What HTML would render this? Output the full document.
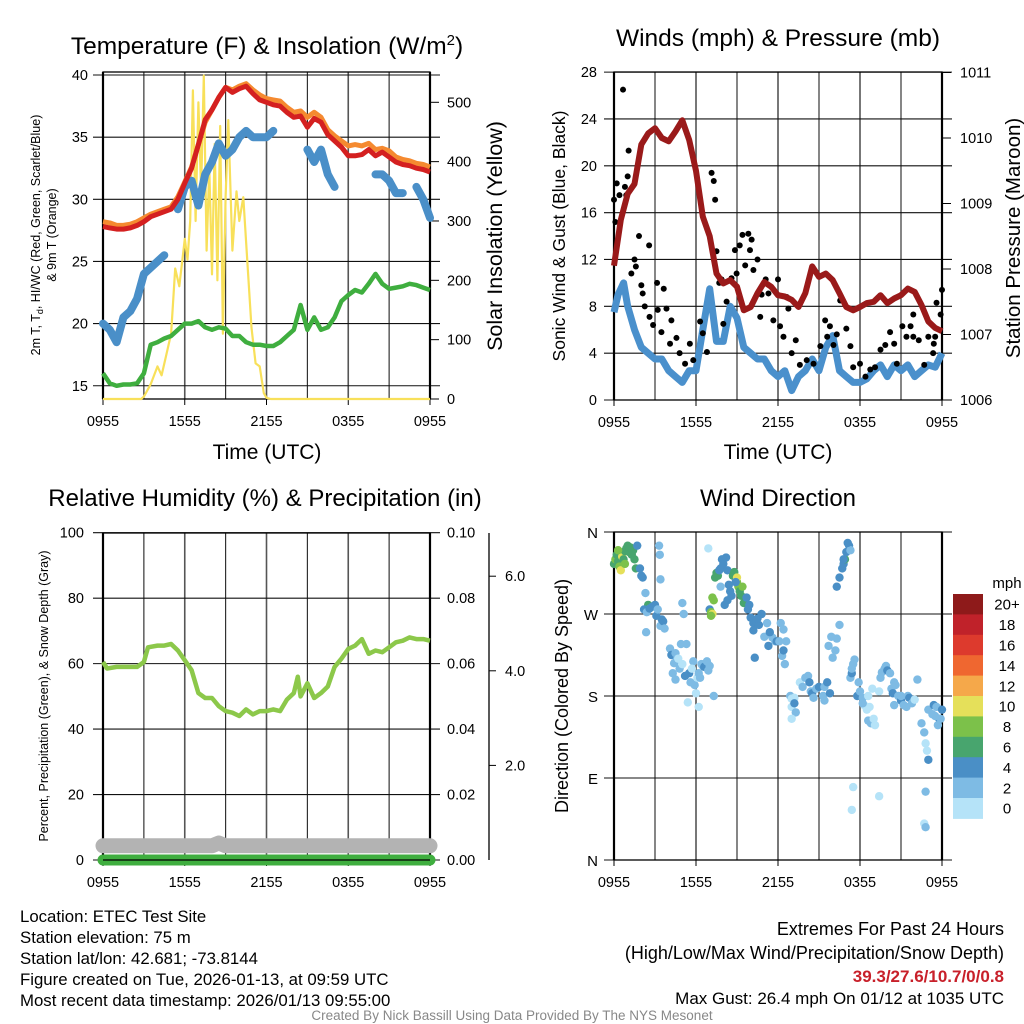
<!DOCTYPE html>
<html><head><meta charset="utf-8"><style>
html,body{margin:0;padding:0;background:#fff;}
svg{display:block;font-family:"Liberation Sans",Arial,sans-serif;}
</style></head><body>
<svg id="fig" width="1024" height="1024" viewBox="0 0 1024 1024">
<rect width="1024" height="1024" fill="#fff"/>
<text x="267" y="54" font-size="24.5" text-anchor="middle">Temperature (F) &amp; Insolation (W/m<tspan dy="-9" font-size="15">2</tspan><tspan dy="9">)</tspan></text>
<text x="778" y="46" font-size="24.5" text-anchor="middle">Winds (mph) &amp; Pressure (mb)</text>
<text x="265" y="506" font-size="24" text-anchor="middle">Relative Humidity (%) &amp; Precipitation (in)</text>
<text x="778" y="506" font-size="24" text-anchor="middle">Wind Direction</text>
<text x="267" y="459" font-size="21" text-anchor="middle">Time (UTC)</text>
<text x="778" y="459" font-size="21" text-anchor="middle">Time (UTC)</text>
<text transform="translate(40,235) rotate(-90)" font-size="12.5" text-anchor="middle">2m T, T<tspan font-size="9" dy="3">d</tspan><tspan dy="-3">, HI/WC (Red, Green, Scarlet/Blue)</tspan></text>
<text transform="translate(56,235) rotate(-90)" font-size="12.5" text-anchor="middle">&amp; 9m T (Orange)</text>
<text transform="translate(502,236) rotate(-90)" font-size="21.5" text-anchor="middle">Solar Insolation (Yellow)</text>
<text transform="translate(565,236) rotate(-90)" font-size="17.5" text-anchor="middle">Sonic Wind &amp; Gust (Blue, Black)</text>
<text transform="translate(1020,238) rotate(-90)" font-size="20.5" text-anchor="middle">Station Pressure (Maroon)</text>
<text transform="translate(48,696) rotate(-90)" font-size="12.5" text-anchor="middle">Percent, Precipitation (Green), &amp; Snow Depth (Gray)</text>
<text transform="translate(568,696) rotate(-90)" font-size="18" text-anchor="middle">Direction (Colored By Speed)</text>
<g font-size="16.8">
<text x="20" y="922">Location: ETEC Test Site</text>
<text x="20" y="943">Station elevation: 75 m</text>
<text x="20" y="964">Station lat/lon: 42.681; -73.8144</text>
<text x="20" y="985">Figure created on Tue, 2026-01-13, at 09:59 UTC</text>
<text x="20" y="1006">Most recent data timestamp: 2026/01/13 09:55:00</text>
</g>
<g font-size="18" text-anchor="end">
<text x="1004" y="935">Extremes For Past 24 Hours</text>
<text x="1004" y="959">(High/Low/Max Wind/Precipitation/Snow Depth)</text>
<text x="1004" y="982" fill="#c8202a" font-weight="bold" font-size="17">39.3/27.6/10.7/0/0.8</text>
<text x="1004" y="1004" font-size="17">Max Gust: 26.4 mph On 01/12 at 1035 UTC</text>
</g>
<text x="512" y="1020" font-size="13.5" fill="#888" text-anchor="middle">Created By Nick Bassill Using Data Provided By The NYS Mesonet</text>
<g id="plots"></g>
</svg>
<script>
// ---------- data ----------
const hourTicks = ["0955","1555","2155","0355","0955"];
const tTimes = [0,0.5,1,1.5,2,2.5,3,3.5,4,4.5,5,5.5,6,6.5,7,7.5,8,8.5,9,9.5,10,10.5,11,11.5,12,12.5,13,13.5,14,14.5,15,15.5,16,16.5,17,17.5,18,18.5,19,19.5,20,20.5,21,21.5,22,22.5,23,23.5,24];
const temp2m = [27.8,27.7,27.6,27.6,27.7,27.9,28.2,28.6,28.8,29.0,29.2,30.0,31.3,32.5,34.4,36.4,37.2,38.2,39.0,38.6,38.9,39.1,38.5,38.0,37.8,37.6,37.5,37.0,36.6,36.7,35.8,36.5,36.2,35.2,34.7,34.2,33.5,33.5,33.6,34.0,33.5,33.8,33.4,33.0,32.8,32.7,32.5,32.4,32.2];
const temp9m = [28.2,28.1,27.9,27.9,28.0,28.2,28.5,28.8,29.0,29.2,29.4,30.2,31.4,32.6,34.4,36.2,37.2,38.2,39.0,38.8,39.1,39.3,38.8,38.4,38.1,38.0,37.9,37.4,37.0,37.1,36.6,37.0,36.6,35.6,35.1,34.7,34.3,34.4,34.3,34.5,34.0,34.1,33.9,33.4,33.2,33.1,32.9,32.8,32.6];
const dewpt = [16.0,15.2,15.0,15.1,15.1,15.2,16.0,18.3,18.5,18.8,19.0,19.5,20.0,20.0,20.2,19.7,19.5,19.7,19.6,19.0,19.0,18.5,18.3,18.3,18.2,18.2,18.5,19.0,19.5,21.5,19.5,20.5,19.5,19.7,20.5,21.8,22.3,22.7,22.5,23.2,24.0,23.2,22.8,22.9,23.0,23.2,23.1,22.9,22.7];
const heatIdx = [20.0,19.5,18.5,20.5,21.0,22.0,24.0,24.5,25.0,25.5,null,29.2,31.0,31.5,29.5,32.0,33.0,34.5,33.5,34.0,35.0,35.5,35.0,35.0,35.0,35.5,null,null,null,null,34.0,33.0,34.0,32.0,31.0,null,null,null,null,null,32.0,32.0,31.5,30.5,30.5,null,31.0,30.0,28.5];
const solarTimes = [0,2.8,3.0,3.5,4.0,4.3,4.6,5.0,5.3,5.6,6.0,6.2,6.4,6.6,6.8,7.0,7.2,7.4,7.6,7.8,8.0,8.2,8.4,8.6,8.8,9.0,9.2,9.5,9.8,10.0,10.3,10.6,10.9,11.2,11.5,11.8,12.0,12.3,24];
const solarVals = [0,0,4,25,55,40,70,110,220,190,270,235,300,520,300,500,350,545,250,390,210,430,200,460,110,340,470,250,350,300,340,230,120,60,55,10,2,0,0];
const windTimes = [0,0.3,0.7,1,1.5,2,2.5,3,3.5,4,4.5,5,5.5,6,6.5,7,7.5,8,8.5,9,9.5,10,10.5,11,11.5,12,12.5,13,13.5,14,14.5,15,15.5,16,16.5,17,17.5,18,18.5,19,19.5,20,20.5,21,21.5,22,22.5,23,23.5,24];
const windSpd = [7.5,9,10,8,6,4.5,4,3.5,3.5,2.5,2,1.5,2.5,2.5,6,9.5,5,5,8,7,4.5,4,3.5,3.5,2.5,2,2.5,0.8,2,2.5,3.5,2.5,4.5,5.5,2.5,2,1.5,1.5,1.8,2.5,3,2,3,2.5,3,2,2.5,3,2.8,4];
const pressTimes = [0,0.5,1,1.5,2,2.5,3,3.5,4,4.5,5,5.5,6,6.5,7,7.5,8,8.5,9,9.5,10,10.5,11,11.5,12,12.5,13,13.5,14,14.5,15,15.5,16,16.5,17,17.5,18,18.5,19,19.5,20,20.5,21,21.5,22,22.5,23,23.5,24];
const pressVals = [1008.05,1008.75,1009.15,1009.3,1009.9,1010.07,1010.15,1010.0,1009.95,1010.1,1010.27,1009.97,1009.5,1008.8,1008.5,1007.93,1007.78,1007.83,1007.73,1007.37,1007.42,1007.63,1007.8,1007.73,1007.6,1007.58,1007.53,1007.42,1007.63,1008.04,1007.88,1007.93,1007.83,1007.63,1007.42,1007.37,1007.42,1007.48,1007.5,1007.6,1007.48,1007.55,1007.6,1007.7,1007.65,1007.45,1007.2,1007.1,1007.05];
const gustTimes = [0,0.1,0.2,0.4,0.66,0.8,1.0,1.07,0.9,1.27,1.5,1.83,1.6,2.0,2.1,2.25,2.57,2.6,2.86,3.15,3.2,3.47,3.64,3.84,4.2,4.1,4.57,4.8,5.2,5.55,5.8,6.3,6.5,6.8,7.14,7.3,7.4,7.5,7.7,7.87,8.0,8.24,8.6,8.85,8.97,9.2,9.4,9.6,9.83,9.95,10.07,10.2,10.5,10.7,10.8,11.1,11.3,11.66,12.0,12.15,12.4,12.64,12.76,13.0,13.3,13.6,14.1,14.6,15.1,15.45,15.6,15.8,16.06,16.3,16.55,17.0,17.3,17.5,18.0,18.4,18.75,19.1,19.5,19.85,20.2,20.5,20.7,21.1,21.4,21.7,21.9,21.9,22.3,22.7,23.0,23.35,23.5,23.6,23.9,24.0,23.4];
const gustVals = [17.1,15.2,18.5,17.5,26.5,18.2,19.1,21.3,17.5,10.8,12.0,14.0,11.4,9.8,9.1,8.0,13.2,7.1,6.4,10.0,7.7,5.8,9.5,7.8,6.8,4.8,5.3,4.0,3.1,4.8,3.4,6.7,5.7,4.1,19.4,18.7,17.1,12.7,10.0,10.3,6.5,8.4,10.4,12.8,10.8,13.2,14.1,11.5,14.2,12.8,13.7,11.1,12.0,7.1,9.0,10.3,9.1,6.8,10.3,6.3,5.4,8.8,7.8,4.0,5.1,3.0,3.4,3.1,4.6,6.8,5.4,6.3,4.7,5.6,8.5,6.1,4.6,2.8,3.1,2.0,2.6,2.8,4.3,4.7,5.8,4.8,3.1,6.3,5.4,6.3,7.3,5.4,5.1,3.0,5.4,4.0,5.4,8.3,7.3,9.4,4.8];
const rhTimes = [0,0.3,1,1.5,2,2.5,3,3.3,4,4.5,5,5.5,6,6.5,7,7.5,8,8.5,9,9.5,10,10.5,11,11.5,12,12.5,13,13.5,14,14.3,14.5,15,15.5,16,16.5,17,17.5,18,18.5,19,19.5,20,20.5,21,21.5,22,22.5,23,23.5,24];
const rhVals = [60.5,58.5,59,59,59,59,60.5,65,65.5,65.5,66,64,61,58,51,49.5,49.5,47,45.5,45,44,46,44.5,45.5,45.5,46,45.5,49,51,56,50,54,49.5,51,53,59,61.5,64.5,65.5,67.5,63,64,63.5,65,66.5,67,68,67.5,67.5,67];
const precipTimes = [0,24];
const precipVals = [0,0];
const snowTimes = [0,8,8.5,9,24];
const snowVals = [0.3,0.3,0.36,0.3,0.3];
const dirTimes = [0,0.1,0.2,0.3,0.4,0.5,0.6,0.7,0.8,0.9,1.0,1.1,1.2,1.3,1.4,1.5,1.7,1.6,0.8,0.3,1.9,2.0,2.1,2.3,2.5,2.2,2.4,2.6,2.8,3.0,3.1,3.2,3.4,3.5,3.6,3.7,2.35,3.3,3.35,3.4,5.0,5.1,4.1,4.2,4.4,4.5,4.6,4.3,4.5,4.8,4.9,5.0,5.3,5.5,5.6,5.8,5.9,6.1,6.2,6.4,6.5,6.6,6.8,6.9,7.0,7.3,5.4,6.0,6.2,5.2,6.3,4.7,5.7,6.9,7.0,7.1,7.2,7.1,7.2,7.3,7.4,7.5,7.6,7.7,7.8,7.9,8.0,8.2,8.3,8.4,8.5,8.6,8.7,8.8,9.0,9.0,9.1,9.2,9.3,9.4,9.5,9.6,9.7,9.9,9.8,10.0,10.2,10.4,10.6,10.5,10.8,10.2,11.0,11.2,11.4,11.6,11.8,11.9,12.1,12.2,12.6,12.4,11.3,10.3,12.3,12.5,12.4,11.4,8.9,7.8,8.1,8.3,12.9,13.0,13.2,13.0,13.2,13.3,13.0,13.6,13.8,14.0,14.2,14.4,14.3,14.5,14.6,14.8,15.0,15.3,15.4,15.6,15.8,15.4,15.9,15.7,16.0,16.2,16.3,16.5,16.3,16.5,16.7,16.8,16.9,17.0,17.2,17.3,17.1,16.8,17.3,17.4,17.5,17.6,17.4,17.9,17.8,18.0,18.2,18.3,18.5,18.6,18.8,18.9,19.0,19.1,18.9,19.4,17.5,17.4,19.4,18.6,18.7,18.2,19.5,19.6,19.8,19.9,20.0,20.2,20.3,20.4,20.5,20.6,20.8,21.0,21.2,21.4,21.5,21.6,21.8,22.0,22.2,22.5,22.7,22.8,22.9,23.0,22.8,22.7,22.8,23.0,23.3,23.4,23.6,23.8,24.0,23.9,23.7,23.5,21.0,20.5];
const dirVals = [325,330,335,328,322,318,333,330,339,342,345,338,343,335,340,330,345,320,325,340,320,312,310,293,280,275,272,276,278,280,268,275,257,264,262,254,250,345,335,308,282,270,232,225,216,227,220,205,198,210,237,215,237,205,195,218,192,200,205,215,213,212,218,208,213,180,173,183,168,202,200,221,210,342,275,272,270,268,288,285,310,315,312,318,320,330,325,332,318,302,295,290,312,316,305,310,300,295,290,300,282,282,288,280,275,266,260,262,258,265,270,252,245,260,248,244,240,240,240,260,240,253,235,222,224,215,230,250,305,300,280,285,180,177,178,168,172,162,155,195,190,200,202,185,195,183,178,188,190,180,190,195,183,175,245,235,222,230,243,258,300,310,320,325,330,338,345,340,348,330,200,205,215,220,210,195,180,185,178,170,165,153,150,150,155,148,188,185,80,55,70,180,168,172,200,206,210,213,208,205,188,183,195,192,180,175,170,168,180,178,172,176,198,150,140,128,120,110,75,40,36,165,160,170,168,155,165,155,148,158,180,170];
const dirSpd = [7,8,7,6,8,10,10,6,7,6,6,7,6,6,6,6,4,6,8,8,4,4,4,2,6,4,2,4,4,4,4,2,2,4,4,2,2,2,2,2,2,2,2,4,2,2,2,2,2,2,2,0,2,4,2,2,2,0,2,2,2,4,2,2,2,2,0,0,0,4,2,0,0,0,4,8,10,8,8,8,6,6,6,4,4,4,4,4,4,4,4,4,6,6,8,10,8,6,6,8,6,6,4,4,4,4,4,4,4,4,4,4,2,2,2,2,2,4,2,2,2,2,4,4,2,2,4,4,4,2,4,4,2,0,0,0,4,2,0,0,2,2,2,2,4,4,2,2,4,2,2,4,4,2,2,2,2,2,2,2,4,4,4,4,6,4,4,2,4,4,2,4,2,2,2,2,4,2,2,0,0,2,2,2,0,0,0,0,0,0,0,0,0,2,2,2,2,2,4,2,2,4,2,2,2,4,2,2,2,4,2,0,2,2,2,0,0,4,2,0,2,2,2,4,2,4,4,2,2,2,2];
const speedLabels = ["0","2","4","6","8","10","12","14","16","18","20+"];
const speedColors = ["#b5e3f8","#7ebbe4","#4a8fc6","#48a56e","#7cc14a","#e5e05a","#f5a84a","#ef6730","#dd3a2d","#c0222a","#8e1a1a"];
const tempTicks = [15,20,25,30,35,40];
const solarTicks = [0,100,200,300,400,500];
const windTicks = [0,4,8,12,16,20,24,28];
const pressTicks = [1006,1007,1008,1009,1010,1011];
const rhTicks = [0,20,40,60,80,100];
const precipTicks = [0,0.02,0.04,0.06,0.08,0.10];
const snowTicks = [2,4,6];
const dirTicks = [0,90,180,270,360];
const dirLabels = ["N","E","S","W","N"];

// ---------- helpers ----------
const NS = "http://www.w3.org/2000/svg";
const root = document.getElementById('plots');
function el(tag, attrs, parent){
  const e = document.createElementNS(NS, tag);
  for (const k in attrs) e.setAttribute(k, attrs[k]);
  (parent||root).appendChild(e);
  return e;
}
function nm(e, name, inter){
  
  
  return e;
}
function txt(x,y,s,size,anchor,parent){
  const e = el('text',{x:x,y:y,'font-size':size,'text-anchor':anchor||'middle'},parent);
  e.textContent = s;
  return e;
}
function pathFrom(ts, vs, xf, yf){
  let d = "", pen = false;
  for (let i=0;i<ts.length;i++){
    if (vs[i]===null || vs[i]===undefined){ pen=false; continue; }
    d += (pen?"L":"M") + xf(ts[i]).toFixed(1) + "," + yf(vs[i]).toFixed(1);
    pen = true;
  }
  return d;
}
function frame(g, x0,x1,y0,y1, hVals, yf, prefix){
  for (let h=3; h<24; h+=3){
    const x = x0 + h*(x1-x0)/24;
    const l = el('line',{x1:x,x2:x,y1:y0,y2:y1,stroke:(h%6===0)?'#555':'#222','stroke-width':(h%6===0)?1.6:1.1},g);
    nm(l, prefix+'-vgrid', false);
  }
  hVals.forEach(v=>{
    const y = yf(v);
    const l = el('line',{x1:x0-10,x2:x1+10,y1:y,y2:y,stroke:'#111','stroke-width':1.1},g);
    nm(l, prefix+'-hgrid', false);
  });
  const r = el('rect',{x:x0,y:y0,width:x1-x0,height:y1-y0,fill:'none',stroke:'#000','stroke-width':1.3},g);
  nm(r, prefix+'-frame', false);
  const ls = el('line',{x1:x0,x2:x0,y1:y0,y2:y1,stroke:'#000','stroke-width':2.2},g);
  nm(ls, prefix+'-left-axis', false);
  const rs = el('line',{x1:x1,x2:x1,y1:y0,y2:y1,stroke:'#000','stroke-width':2.2},g);
  nm(rs, prefix+'-right-axis', false);
  hourTicks.forEach((s,i)=>{
    const x = x0 + i*6*(x1-x0)/24;
    const tk = el('line',{x1:x,x2:x,y1:y1,y2:y1+6,stroke:'#000','stroke-width':1},g);
    nm(tk, prefix+'-x-tick', false);
    const t = txt(x, y1+27, s, 14.5, 'middle', g);
    nm(t, prefix+'-x-tick-label', false);
  });
}

// ---------- Panel 1: temperature ----------
(function(){
  const g = el('g',{}); nm(g,'temperature-panel',false);
  const x0=103,x1=430,y0=72,y1=399;
  const X = t => x0 + t*(x1-x0)/24;
  const T = v => 75 + (40-v)*12.43;
  const S = v => 399 - v*0.5934;
  frame(g,x0,x1,y0,y1,tempTicks,T,'temperature');
  tempTicks.forEach(v=>{ const t=txt(88,T(v)+5,String(v),14.5,'end',g); nm(t,'temperature-y-tick-label',false); });
  solarTicks.forEach(v=>{
    const tk=el('line',{x1:x1,x2:x1+9,y1:S(v),y2:S(v),stroke:'#000'},g); nm(tk,'solar-y-tick',false);
    const t=txt(447,S(v)+5,String(v),14.5,'start',g); nm(t,'solar-y-tick-label',false);
  });
  const sol = el('path',{d:pathFrom(solarTimes,solarVals,X,S),fill:'none',stroke:'#f8e05a','stroke-width':2.2,'stroke-linejoin':'round'},g);
  nm(sol,'solar-insolation-line',false);
  const dp = el('path',{d:pathFrom(tTimes,dewpt,X,T),fill:'none',stroke:'#3fae3f','stroke-width':4.5,'stroke-linejoin':'round'},g);
  nm(dp,'dewpoint-line',false);
  const hi = el('path',{d:pathFrom(tTimes,heatIdx,X,T),fill:'none',stroke:'#4a8fc8','stroke-width':8,'stroke-linejoin':'round','stroke-linecap':'round'},g);
  nm(hi,'wind-chill-line',false);
  const t9 = el('path',{d:pathFrom(tTimes,temp9m,X,T),fill:'none',stroke:'#f58a30','stroke-width':5,'stroke-linejoin':'round'},g);
  nm(t9,'temperature-9m-line',false);
  const t2 = el('path',{d:pathFrom(tTimes,temp2m,X,T),fill:'none',stroke:'#d42020','stroke-width':5,'stroke-linejoin':'round'},g);
  nm(t2,'temperature-2m-line',false);
})();

// ---------- Panel 2: winds ----------
(function(){
  const g = el('g',{}); nm(g,'winds-panel',false);
  const x0=614,x1=942,y0=72,y1=400;
  const X = t => x0 + t*(x1-x0)/24;
  const W = v => 400 - v*11.71;
  const P = v => 400 - (v-1006)*65.5;
  frame(g,x0,x1,y0,y1,windTicks,W,'winds');
  windTicks.forEach(v=>{ const t=txt(597,W(v)+5,String(v),14.5,'end',g); nm(t,'wind-y-tick-label',false); });
  pressTicks.forEach(v=>{
    const tk=el('line',{x1:x1,x2:x1+9,y1:P(v),y2:P(v),stroke:'#000'},g); nm(tk,'pressure-y-tick',false);
    const t=txt(960,P(v)+5,String(v),14.5,'start',g); nm(t,'pressure-y-tick-label',false);
  });
  const ws = el('path',{d:pathFrom(windTimes,windSpd,X,W),fill:'none',stroke:'#4a90cc','stroke-width':7,'stroke-linejoin':'round'},g);
  nm(ws,'sonic-wind-line',false);
  gustTimes.forEach((t,i)=>{
    const c = el('circle',{cx:X(t),cy:W(gustVals[i]),r:3,fill:'#000'},g);
    nm(c,'gust-point',false);
  });
  const pr = el('path',{d:pathFrom(pressTimes,pressVals,X,P),fill:'none',stroke:'#9a1a1a','stroke-width':6,'stroke-linejoin':'round'},g);
  nm(pr,'pressure-line',false);
})();

// ---------- Panel 3: humidity ----------
(function(){
  const g = el('g',{}); nm(g,'humidity-panel',false);
  const x0=103,x1=430,y0=533,y1=860;
  const X = t => x0 + t*(x1-x0)/24;
  const R = v => 860 - v*3.273;
  const Pr = v => 860 - v*3273;
  const Sn = v => 860 - v*47.3;
  frame(g,x0,x1,y0,y1,rhTicks,R,'humidity');
  rhTicks.forEach(v=>{ const t=txt(84,R(v)+5,String(v),14.5,'end',g); nm(t,'rh-y-tick-label',false); });
  precipTicks.forEach(v=>{
    const t=txt(447,Pr(v)+5,v.toFixed(2),14.5,'start',g); nm(t,'precip-y-tick-label',false);
  });
  const ax = el('line',{x1:489,x2:489,y1:y0,y2:y1,stroke:'#000','stroke-width':1.3},g);
  nm(ax,'snow-depth-axis',false);
  snowTicks.forEach(v=>{
    const tk=el('line',{x1:489,x2:496,y1:Sn(v),y2:Sn(v),stroke:'#000'},g); nm(tk,'snow-y-tick',false);
    const t=txt(505,Sn(v)+5,v.toFixed(1),14.5,'start',g); nm(t,'snow-y-tick-label',false);
  });
  const sn = el('path',{d:pathFrom(snowTimes,snowVals,X,Sn),fill:'none',stroke:'#b3b3b3','stroke-width':15,'stroke-linecap':'round','stroke-linejoin':'round'},g);
  nm(sn,'snow-depth-line',false);
  const pp = el('path',{d:pathFrom(precipTimes,precipVals,X,Pr),fill:'none',stroke:'#3fae3f','stroke-width':11,'stroke-linecap':'round'},g);
  nm(pp,'precipitation-line',false);
  const bl = el('line',{x1:x0,x2:x1,y1:y1,y2:y1,stroke:'#000','stroke-width':1.2},g);
  nm(bl,'humidity-baseline',false);
  const rh = el('path',{d:pathFrom(rhTimes,rhVals,X,R),fill:'none',stroke:'#8cc84a','stroke-width':4.5,'stroke-linejoin':'round'},g);
  nm(rh,'relative-humidity-line',false);
})();

// ---------- Panel 4: wind direction ----------
(function(){
  const g = el('g',{}); nm(g,'wind-direction-panel',false);
  const x0=614,x1=942,y0=532,y1=860;
  const X = t => x0 + t*(x1-x0)/24;
  const D = v => 860 - v*0.9111;
  frame(g,x0,x1,y0,y1,dirTicks,D,'direction');
  dirTicks.forEach((v,i)=>{ const t=txt(598,D(v)+6,dirLabels[i],15,'end',g); nm(t,'direction-y-tick-label',false); });
  dirTimes.forEach((t,i)=>{
    const sp = (dirSpd[i]===undefined) ? 2 : dirSpd[i];
    const idx = Math.min(10, Math.floor(sp/2));
    const c = el('circle',{cx:X(t),cy:D(dirVals[i]),r:4.2,fill:speedColors[idx]},g);
    nm(c,'direction-point',false);
  });
  const lt = txt(1007,588,'mph',15,'middle',g); nm(lt,'colorbar-title',false);
  const bh = 20.4;
  for (let i=0;i<speedLabels.length;i++){
    const k = speedLabels.length-1-i;
    const r = el('rect',{x:953,y:594+i*bh,width:30,height:bh+0.5,fill:speedColors[k]},g);
    nm(r,'colorbar-swatch-'+speedLabels[k].replace('+','plus'),false);
    const t = txt(1007,594+i*bh+bh/2+5.5,speedLabels[k],15,'middle',g);
    nm(t,'colorbar-label',false);
  }
})();
</script>
</body></html>
